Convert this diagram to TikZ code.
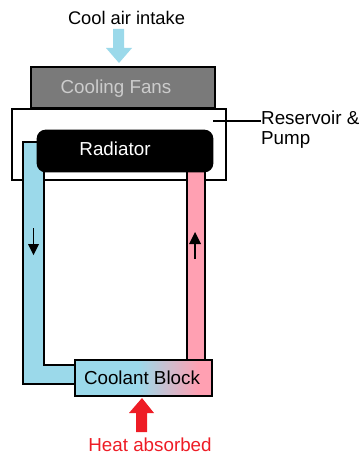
\documentclass[tikz,border=0pt]{standalone}
\usepackage{fontspec}
\setmainfont{Liberation Sans}
\usepackage{tikz}
\definecolor{coldblue}{HTML}{9BD9EA}
\definecolor{hotpink}{HTML}{FFA0B2}
\definecolor{heatred}{HTML}{EE1C25}
\pgfdeclarehorizontalshading{blockshade}{100bp}{color(0bp)=(coldblue); color(48bp)=(coldblue); color(70bp)=(hotpink); color(100bp)=(hotpink)}
\tikzset{
    label text/.style={font=\fontsize{18.8}{22}\selectfont, inner sep=0pt},
    box/.style={draw=black, line width=1.6pt, inner sep=0pt, outer sep=0pt, anchor=north west}
}

\begin{document}
\begin{tikzpicture}[x=1pt, y=-1pt]
    \useasboundingbox (0,0) rectangle (361,457);

    % Reservoir
    \node[box, fill=white, minimum width=214pt, minimum height=71pt] (reservoir) at (12,109) {};

    % Cold and hot pipes
    \draw[line width=1.6pt, fill=coldblue] (23,142) -- (44,142) -- (44,365) -- (76,365) -- (76,384) -- (23,384) -- cycle;
    \draw[line width=1.6pt, fill=hotpink] (187,165) rectangle (205,361);

    % Radiator
    \node[box, fill=black, rounded corners=8pt, minimum width=175pt, minimum height=41pt] (radiator) at (37.5,130.5) {};
    \node[label text, white] (radiatortext) at (115,149) {Radiator};

    % Cooling fans
    \node[box, fill=black!52, minimum width=184pt, minimum height=41pt] (fans) at (31,67) {};
    \node[label text, black!20] (fanstext) at (116,89) {Cooling Fans};

    % Coolant block
    \node[box, shading=blockshade, minimum width=137pt, minimum height=36pt] (block) at (75,360) {};
    \node[label text] (blocktext) at (142,378) {Coolant Block};

    % Air and heat arrows
    \fill[coldblue] (113,29) -- (124,29) -- (124,48) -- (132,48) -- (119,63) -- (106,48) -- (113,48) -- cycle;
    \fill[heatred] (136,432) -- (147,432) -- (147,413) -- (154,413) -- (142,398) -- (129,413) -- (136,413) -- cycle;

    % Flow arrows
    \coordinate (downstart) at (33.5,228);
    \coordinate (downend) at (33.5,255);
    \coordinate (upstart) at (195,259);
    \coordinate (upend) at (195,232);
    \draw[line width=1.3pt] (downstart) -- (33.5,244);
    \fill (28,244) -- (39,244) -- (downend) -- cycle;
    \draw[line width=1.3pt] (upstart) -- (195,244);
    \fill (189,244) -- (201,244) -- (upend) -- cycle;

    % Labels
    \node[label text, font=\fontsize{18.3}{22}\selectfont] (intake) at (126.5,18) {Cool air intake};
    \node[label text, heatred] (heat) at (150,445) {Heat absorbed};
    \node[label text, anchor=west] (reservoirlabel) at (261,118) {Reservoir \&};
    \node[label text, anchor=west] (pumplabel) at (261,140) {Pump};
    \coordinate (leaderstart) at (213,121);
    \draw[line width=1.1pt] (leaderstart) -- (reservoirlabel.west |- leaderstart);
\end{tikzpicture}
\end{document}
